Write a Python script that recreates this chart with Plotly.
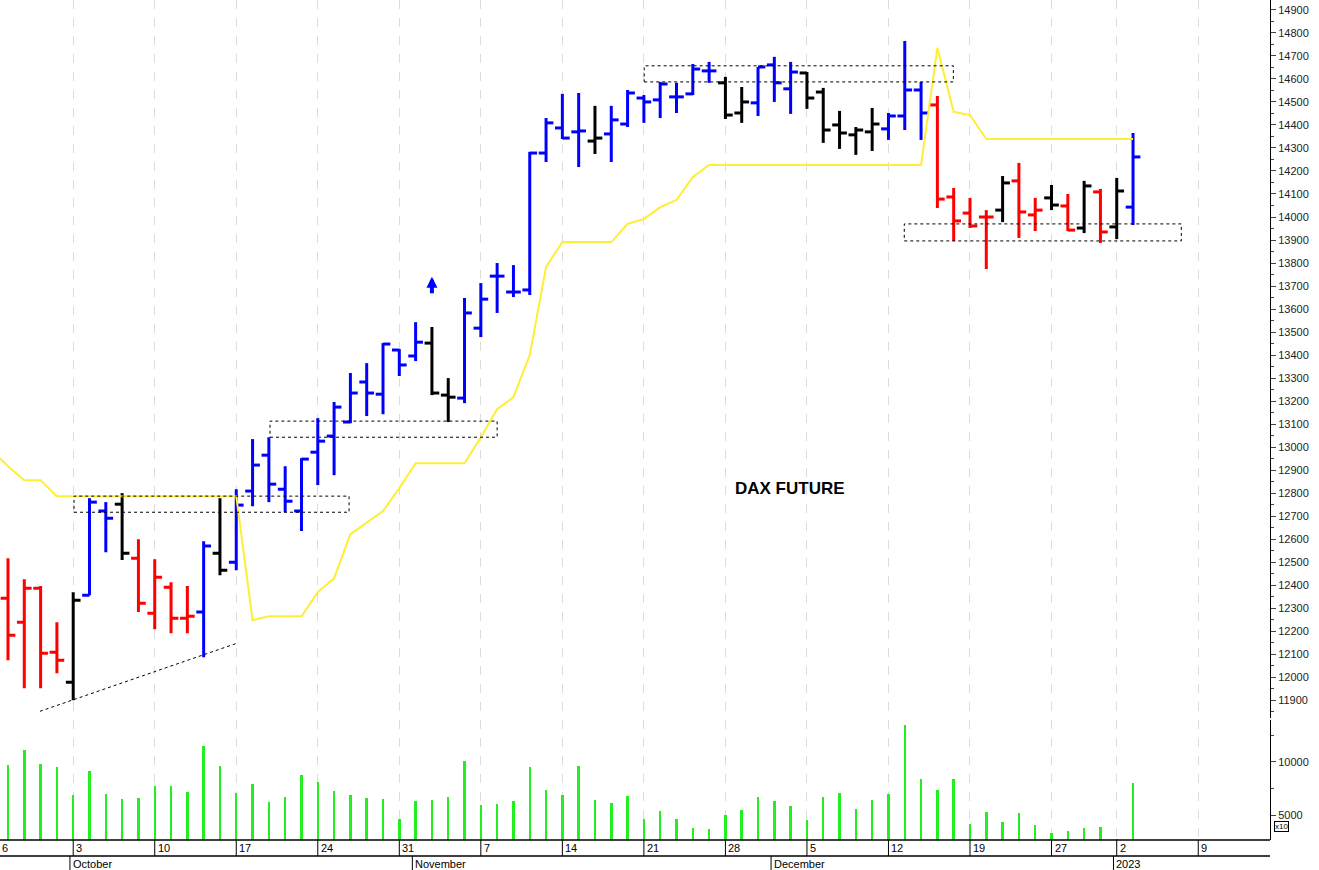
import plotly.graph_objects as go

# OHLC per trading day (index 0 = 27 Sep 2022 ... 69 = 3 Jan 2023)
opens = [12343,12239,12387,12109,11978,12356,12722,12752,12517,12278,12391,12256,12283,12539,12500,
         12809,12965,12817,12722,12978,13048,13109,13283,13230,13422,13396,13452,13226,13213,13517,
         13743,13674,13683,14278,14387,14370,14330,14361,14404,14517,14509,14522,14535,14635,14583,
         14452,14496,14661,14557,14626,14543,14400,14357,14370,14383,14439,14552,14487,14087,14017,
         14000,14030,14157,14009,14083,14048,13952,14109,13957,14043]
highs = [12517,12426,12396,12239,12369,12778,12761,12800,12600,12513,12413,12396,12591,12778,12817,
         13035,13043,12917,12952,13126,13196,13322,13365,13452,13426,13543,13522,13300,13648,13713,
         13800,13791,14283,14430,14535,14539,14483,14483,14552,14530,14587,14583,14665,14674,14609,
         14565,14652,14696,14674,14630,14561,14461,14391,14474,14452,14765,14587,14526,14126,14083,
         14030,14178,14235,14083,14139,14100,14157,14122,14170,14365]
lows = [12074,11952,11952,12017,11900,12356,12543,12509,12283,12209,12191,12191,12087,12443,12465,
        12743,12761,12717,12635,12835,12878,13104,13135,13143,13309,13374,13226,13109,13191,13478,
        13583,13652,13661,14239,14339,14217,14274,14239,14391,14409,14430,14452,14530,14583,14426,
        14409,14439,14500,14448,14470,14322,14296,14270,14287,14335,14378,14335,14039,13896,13952,
        13774,13978,13909,13939,14030,13939,13930,13887,13904,13965]
closes = [12183,12387,12104,12074,12335,12761,12691,12539,12322,12435,12256,12265,12570,12465,12748,
          12922,12839,12765,12948,13026,13174,13235,13235,13448,13357,13456,13235,13217,13583,13643,
          13743,13674,14278,14409,14343,14374,14343,14422,14539,14500,14578,14522,14643,14635,14443,
          14500,14652,14583,14630,14517,14378,14365,14378,14404,14439,14552,14452,14078,13983,13961,
          14000,14148,14022,14030,14052,13943,14135,13935,14113,14261]
bar_colors = (["red"]*4 + ["black"] + ["blue"]*2 + ["black"] + ["red"]*4 + ["blue", "black"] +
              ["blue"]*12 + ["black"]*2 + ["blue"]*8 + ["black"] + ["blue"]*7 + ["black"]*2 +
              ["blue"]*3 + ["black"]*5 + ["blue"]*3 + ["red"]*4 + ["black", "red", "red", "black",
              "red", "black", "red", "black", "blue"])
stop_line_x = [-0.5] + list(range(70))
stop_line = [12952, 12917,12856,12856,12787,12787,12787,12787,12787,12787,12787,12787,12787,12787,12787,12787,
             12248,12265,12265,12265,12370,12430,12622,12674,12722,12822,12930,12930,12930,12930,13043,
             13165,13217,13400,13783,13891,13891,13891,13891,13970,13991,14043,14074,14174,14226,14226,
             14226,14226,14226,14226,14226,14226,14226,14226,14226,14226,14226,14226,14735,14457,14443,
             14339,14339,14339,14339,14339,14339,14339,14339,14339,14339]
volume = [9690,11160,9840,9530,6875,9125,6970,6500,6625,7720,7720,7190,11470,9590,7090,7900,6190,6720,
          8750,8125,7250,6875,6625,6560,4625,6310,6470,6720,10060,6000,6090,6340,9530,7340,6875,9625,
          6400,6160,6810,4625,5375,4625,3810,3690,5060,5530,6720,6310,5900,4530,6720,7090,5560,6400,
          6970,13440,8440,7340,8440,4160,5250,4380,5160,4060,3280,3500,3750,3840,2800,8060]
day_ticks = [4, 9, 14, 19, 24, 29, 34, 39, 44, 49, 54, 59, 64, 68, 73]
day_labels = ["3", "10", "17", "24", "31", "7", "14", "21", "28", "5", "12", "19", "27", "2", "9"]
month_pos = [4, 25, 47, 68]
month_labels = ["October", "November", "December", "2023"]

n = len(opens)
idx = list(range(n))
fig = go.Figure()

for col in ["red", "black", "blue"]:
    xs, ys = [], []
    for i in idx:
        if bar_colors[i] != col:
            continue
        xs += [i, i, None, i - 0.45, i, None, i, i + 0.45, None]
        ys += [lows[i], highs[i], None, opens[i], opens[i], None, closes[i], closes[i], None]
    fig.add_trace(go.Scatter(x=xs, y=ys, mode="lines", line=dict(color=col, width=3),
                             hoverinfo="skip", showlegend=False, yaxis="y"))

fig.add_trace(go.Scatter(x=stop_line_x, y=stop_line, mode="lines", line=dict(color="#ffee33", width=2),
                         showlegend=False, yaxis="y"))
fig.add_trace(go.Bar(x=idx, y=volume, marker=dict(color="#22ee22", line_width=0), width=0.15,
                     showlegend=False, yaxis="y2"))

dash = dict(color="black", width=1, dash="dot")
for x0, x1, y0, y1 in [(4.05, 20.92, 12717, 12787), (16.07, 30.0, 13043, 13113),
                       (39.02, 57.98, 14587, 14657), (54.97, 71.96, 13896, 13970)]:
    fig.add_shape(type="rect", x0=x0, x1=x1, y0=y0, y1=y1, xref="x", yref="y", line=dash)
fig.add_shape(type="line", x0=1.96, x1=14.05, y0=11852, y1=12148, xref="x", yref="y",
              line=dict(color="black", width=1, dash="dot"))

fig.add_annotation(x=26.0, y=13740, ax=0, ay=18, xref="x", yref="y", showarrow=True,
                   arrowhead=2, arrowsize=0.55, arrowwidth=4, arrowcolor="blue", text="")
fig.add_annotation(x=47.98, y=12822, xref="x", yref="y", text="<b>DAX FUTURE</b>", showarrow=False,
                   font=dict(family="Liberation Sans", size=17, color="black"))

# bottom date axis
for t, lab in zip(day_ticks, day_labels):
    fig.add_shape(type="line", x0=t, x1=t, y0=0, y1=-0.019, xref="x", yref="paper",
                  line=dict(color="black", width=1))
    fig.add_annotation(x=t, y=-0.0095, xref="x", yref="paper", text=lab, showarrow=False,
                       xanchor="left", yanchor="middle", xshift=1,
                       font=dict(family="Liberation Sans", size=11, color="black"))
fig.add_annotation(x=0, y=-0.0095, xref="paper", yref="paper", text="6", showarrow=False,
                   xanchor="left", yanchor="middle", font=dict(family="Liberation Sans", size=11, color="black"))
for t, lab in zip(month_pos, month_labels):
    fig.add_shape(type="line", x0=t - 0.2, x1=t - 0.2, y0=-0.019, y1=-0.04, xref="x", yref="paper",
                  line=dict(color="black", width=1))
    fig.add_annotation(x=t - 0.2, y=-0.029, xref="x", yref="paper", text=lab, showarrow=False,
                       xanchor="left", yanchor="middle", xshift=1,
                       font=dict(family="Liberation Sans", size=11, color="black"))
for yy in [0, -0.019]:
    fig.add_shape(type="line", x0=0, x1=1, y0=yy, y1=yy, xref="paper", yref="paper",
                  line=dict(color="black", width=1.5))
fig.add_annotation(x=1.003, y=0.01, xref="paper", yref="paper", text="x10", showarrow=False,
                   xanchor="left", yanchor="bottom", bordercolor="black", borderwidth=1, borderpad=0,
                   font=dict(family="Liberation Sans", size=8, color="black"))

fig.update_layout(
    width=1319, height=870, margin=dict(l=0, r=49, t=0, b=30),
    paper_bgcolor="white", plot_bgcolor="white", bargap=0,
    xaxis=dict(range=[-0.49, 77.4], tickvals=day_ticks, showticklabels=False, showgrid=True,
               gridcolor="#dcdcdc", griddash="dash", gridwidth=1, zeroline=False, showline=False),
    yaxis=dict(domain=[0.145, 1], range=[11822, 14943], side="right", dtick=100, showgrid=False,
               tickformat="d",
               ticks="outside", ticklen=5, showline=True, linecolor="black", zeroline=False,
               minor=dict(ticks="outside", ticklen=3, dtick=50),
               tickfont=dict(family="Liberation Sans", size=11, color="#222")),
    yaxis2=dict(domain=[0, 0.143], range=[2650, 13950], side="right", tickvals=[5000, 10000],
                tickformat="d",
                showgrid=False, ticks="outside", ticklen=5, showline=True, linecolor="black",
                zeroline=False, minor=dict(ticks="outside", ticklen=3, dtick=2500),
                tickfont=dict(family="Liberation Sans", size=11, color="#222")),
)
fig.write_html("out.html", config={"displayModeBar": False})
with open("out.html", encoding="utf-8") as fh:
    page = fh.read()
page = page.replace("<body>", '<body style="margin:0;overflow:hidden">', 1)
with open("out.html", "w", encoding="utf-8") as fh:
    fh.write(page)
